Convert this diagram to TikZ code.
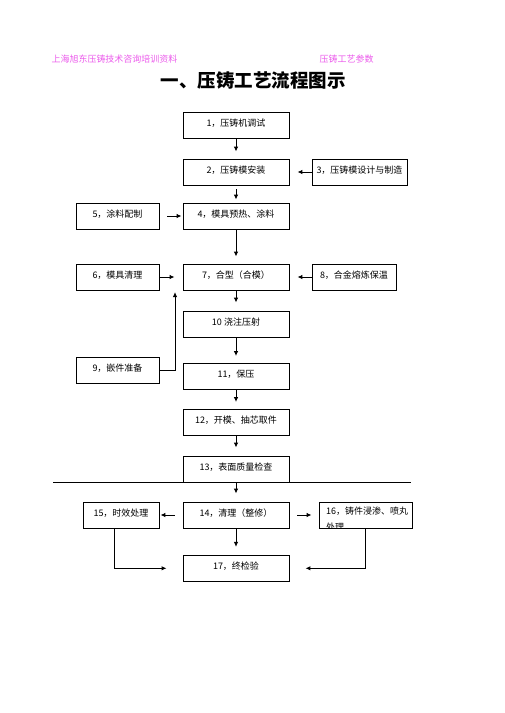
\documentclass[tikz,border=0pt]{standalone}
\usepackage{fontspec}
\usepackage{tikz}
\usetikzlibrary{arrows.meta}
\setmainfont{Noto Sans CJK SC}
\definecolor{hdpink}{RGB}{235,90,235}

\tikzset{
  box/.style={draw, line width=0.8pt, minimum height=26pt, inner sep=0pt,
    text height=7pt, text depth=5pt, font=\fontsize{9}{11}\selectfont},
  flow/.style={line width=1pt, -{Latex[length=5pt,width=4.5pt]}}
}

\begin{document}
\begin{tikzpicture}[x=1pt, y=-1pt]
			\useasboundingbox (0,0) rectangle (504,713);
			\node[hdpink, font=\fontsize{9}{11}\selectfont] (hl) at (114.5,59) {上海旭东压铸技术咨询培训资料};
			\node[hdpink, font=\fontsize{9}{11}\selectfont] (hr) at (346.5,59) {压铸工艺参数};
			\node[font=\fontsize{18.5}{20}\selectfont\bfseries] (title) at (253,80) {一、压铸工艺流程图示};
			% main column
			\node[box, minimum width=106pt] (b1) at (236,125.5) {1，压铸机调试};
			\node[box, minimum width=106pt] (b2) at (236,172) {2，压铸模安装};
			\node[box, minimum width=95pt] (b3) at (359.5,172) {3，压铸模设计与制造};
			\node[box, minimum width=106pt] (b4) at (236,216) {4，模具预热、涂料};
			\node[box, minimum width=83pt] (b5) at (117.5,216) {5，涂料配制};
			\node[box, minimum width=83pt] (b6) at (117.5,277) {6，模具清理};
			\node[box, minimum width=106pt] (b7) at (236,277) {7，合型（合模）};
			\node[box, minimum width=84pt] (b8) at (354,277) {8，合金熔炼保温};
			\node[box, minimum width=106pt] (b10) at (236,324) {10 浇注压射};
			\node[box, minimum width=83pt] (b9) at (117.5,370) {9，嵌件准备};
			\node[box, minimum width=106pt] (b11) at (236,376.5) {11，保压};
			\node[box, minimum width=106pt] (b12) at (236,422.5) {12，开模、抽芯取件};
			\node[box, minimum width=106pt] (b13) at (236,469) {13，表面质量检查};
			\node[box, minimum width=106pt] (b14) at (236,515) {14，清理（整修）};
			\node[box, minimum width=76pt] (b15) at (121,515) {15，时效处理};
			\node[box, minimum width=93pt] (b16) at (365.5,515) {};
			\begin{scope}
			\clip (b16.south west) rectangle (b16.north east);
			\node[anchor=north west, inner sep=0pt, align=left, font=\fontsize{9}{16}\selectfont] (t16) at (326,507) {16，铸件浸渗、喷丸\\处理};
			\end{scope}
			\node[box, minimum width=106pt] (b17) at (236,568.3) {17，终检验};
			% connectors
			\draw[flow, shorten >=7pt] (b1) -- (b2);
			\draw[flow, shorten >=8pt] (b3) -- (b2);
			\draw[flow, shorten <=4pt, shorten >=3pt] (b2) -- (b4);
			\draw[flow, shorten <=8pt, shorten >=1pt] (b5) -- (b4);
			\draw[flow, shorten >=7pt] (b4) -- (b7);
			\draw[flow, shorten >=8pt] (b6) -- (b7);
			\draw[flow, shorten >=8pt] (b8) -- (b7);
			\draw[flow, shorten >=8pt] (b7) -- (b10);
			\draw[flow, shorten >=7pt] (b10) -- (b11);
			\coordinate (P9) at (175,292);
			\draw[flow] (b9.east) -| (P9);
			\draw[flow, shorten >=7pt] (b11) -- (b12);
			\draw[flow, shorten >=8pt] (b12) -- (b13);
			\coordinate (L1) at (53,482);
			\coordinate (L2) at (411,482);
			\draw[line width=0.8pt] (L1) -- (L2);
			\draw[flow, shorten >=8pt] (b13.south) -- (b14);
			\draw[flow, shorten <=8pt, shorten >=1pt] (b14) -- (b15);
			\draw[flow, shorten <=8pt, shorten >=7pt] (b14) -- (b16);
			\draw[flow, shorten >=8pt] (b14) -- (b17);
			\draw[flow, shorten >=16pt] ([xshift=-7pt]b15.south) |- (b17.west);
			\draw[flow, shorten >=16pt] (b16.south) |- (b17.east);
			\end{tikzpicture}
\end{document}
